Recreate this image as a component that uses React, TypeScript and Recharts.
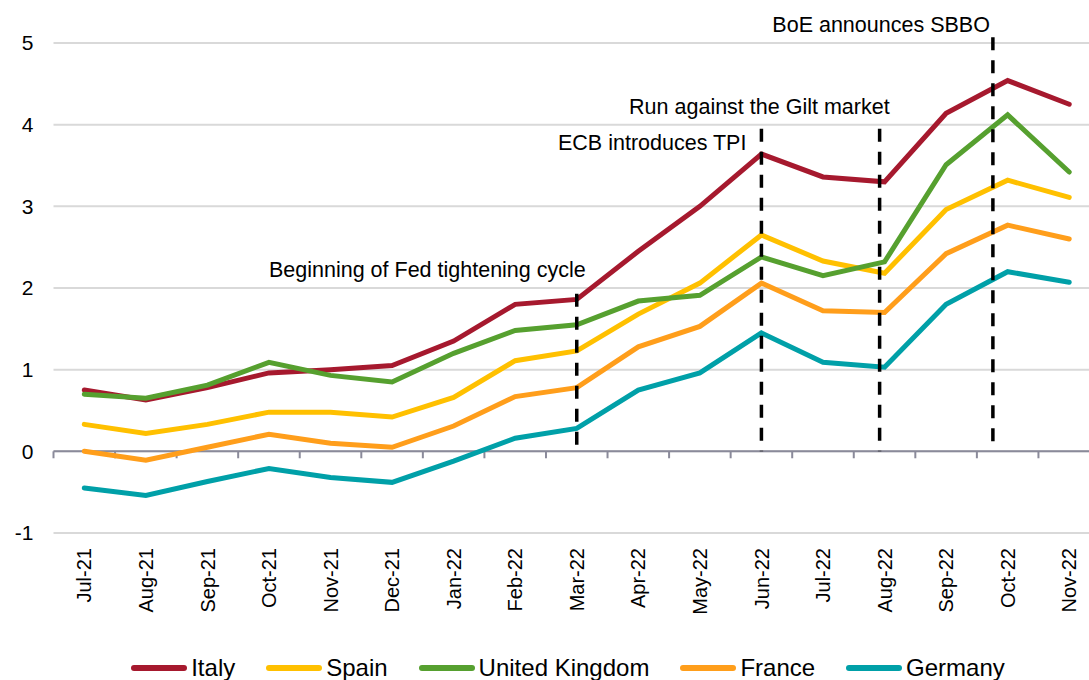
import React from 'react'
import { LineChart, Line, XAxis, YAxis, CartesianGrid, ReferenceLine, ReferenceDot, Legend } from 'recharts'

const MONTHS = [
  'Jul-21', 'Aug-21', 'Sep-21', 'Oct-21', 'Nov-21', 'Dec-21', 'Jan-22', 'Feb-22', 'Mar-22',
  'Apr-22', 'May-22', 'Jun-22', 'Jul-22', 'Aug-22', 'Sep-22', 'Oct-22', 'Nov-22',
]

const ITALY = [0.75, 0.63, 0.78, 0.96, 1.0, 1.05, 1.35, 1.8, 1.86, 2.45, 3.0, 3.64, 3.36, 3.3, 4.14, 4.54, 4.25]
const SPAIN = [0.33, 0.22, 0.33, 0.48, 0.48, 0.42, 0.66, 1.11, 1.23, 1.68, 2.06, 2.65, 2.33, 2.18, 2.96, 3.32, 3.11]
const UK = [0.7, 0.65, 0.81, 1.09, 0.93, 0.85, 1.2, 1.48, 1.55, 1.84, 1.91, 2.38, 2.15, 2.32, 3.51, 4.12, 3.42]
const FRANCE = [0.0, -0.11, 0.05, 0.21, 0.1, 0.05, 0.31, 0.67, 0.78, 1.28, 1.53, 2.06, 1.72, 1.7, 2.42, 2.77, 2.6]
const GERMANY = [-0.45, -0.54, -0.37, -0.21, -0.32, -0.38, -0.12, 0.16, 0.28, 0.75, 0.96, 1.45, 1.09, 1.03, 1.8, 2.2, 2.07]

const Y_TICKS = [-1, 0, 1, 2, 3, 4, 5]

// event markers: position in month units from the start of Jul-21 (dates fall inside months)
const EVENT_POS = [8.5, 11.5, 13.42, 15.26]
const EVENT_TOPS = [1.93, 3.95, 3.95, 5.07]
const EVENT_LABELS = [
  'Beginning of Fed tightening cycle',
  'ECB introduces TPI',
  'Run against the Gilt market',
  'BoE announces SBBO',
]
// text placement relative to the top of each marker
const LABEL_OFFSETS = [
  { dx: 9, dy: -17 },
  { dx: -15, dy: 21 },
  { dx: 10, dy: -15 },
  { dx: -3, dy: -5 },
]

const SERIES = [
  { key: 'italy', name: 'Italy', color: '#A6192E', values: ITALY },
  { key: 'spain', name: 'Spain', color: '#FFC000', values: SPAIN },
  { key: 'uk', name: 'United Kingdom', color: '#56A02F', values: UK },
  { key: 'france', name: 'France', color: '#FF9E1B', values: FRANCE },
  { key: 'germany', name: 'Germany', color: '#00A0A8', values: GERMANY },
]

const FONT = '"Liberation Sans", Arial, Helvetica, sans-serif'
const AXIS_GREY = '#8A8A9A'

// "mid" = centre of each month in month units, feeds the hidden numeric axis
const chartData = MONTHS.map((month, i) => {
  const row: Record<string, any> = { month, mid: i + 0.5 }
  SERIES.forEach(s => {
    row[s.key] = s.values[i]
  })
  return row
})

const edgeTicks = [...MONTHS.map((_, i) => i), MONTHS.length]

const MonthTick = (props: any) => {
  const { x, y, payload } = props
  return (
    <text
      x={x}
      y={y}
      dy="0.36em"
      transform={`rotate(-90 ${x} ${y})`}
      textAnchor="end"
      fontSize={20}
      fontFamily={FONT}
      fill="#000"
    >
      {payload.value}
    </text>
  )
}

const LegendContent = () => (
  <div
    style={{
      height: 57,
      boxSizing: 'border-box',
      paddingTop: 33,
      paddingLeft: 36,
      display: 'flex',
      justifyContent: 'center',
      gap: 31,
      fontFamily: FONT,
      fontSize: 24,
      lineHeight: '24px',
      color: '#000',
    }}
  >
    {SERIES.map(s => (
      <div key={s.key} style={{ display: 'flex', alignItems: 'center' }}>
        <svg width={56} height={8} style={{ marginRight: 4 }}>
          <line x1={3} y1={4} x2={53} y2={4} stroke={s.color} strokeWidth={6} strokeLinecap="round" />
        </svg>
        <span>{s.name}</span>
      </div>
    ))}
  </div>
)

export default function App() {
  return (
    <div style={{ position: 'absolute', left: 0, top: 0, width: 1089, height: 680, overflow: 'hidden', background: '#fff' }}>
      <LineChart
        width={1100}
        height={680}
        data={chartData}
        margin={{ top: 43, right: 0, left: 0, bottom: 0 }}
      >
        <CartesianGrid vertical={false} stroke="#D9D9D9" strokeWidth={2} />
        <XAxis
          dataKey="month"
          scale="band"
          interval={0}
          axisLine={false}
          tickLine={false}
          tickSize={0}
          tickMargin={15}
          height={90}
          tick={<MonthTick />}
        />
        <XAxis
          xAxisId="edge"
          dataKey="mid"
          type="number"
          scale="linear"
          domain={[0, MONTHS.length]}
          ticks={edgeTicks}
          allowDataOverflow
          hide
        />
        <YAxis
          domain={[-1, 5]}
          ticks={Y_TICKS}
          interval={0}
          width={53.5}
          axisLine={false}
          tickLine={false}
          tickSize={0}
          tickMargin={20}
          tick={{ fontSize: 21, fill: '#000', fontFamily: FONT }}
        />
        <Legend verticalAlign="bottom" content={<LegendContent />} wrapperStyle={{ left: 0, bottom: 0, width: 1100 }} />

        <ReferenceLine y={0} stroke={AXIS_GREY} strokeWidth={2} />
        {edgeTicks.map(t => (
          <ReferenceLine
            key={`edge-${t}`}
            xAxisId="edge"
            segment={[{ x: t, y: 0 }, { x: t, y: -0.085 }]}
            stroke={AXIS_GREY}
            strokeWidth={2}
            ifOverflow="visible"
          />
        ))}

        {SERIES.map(s => (
          <Line
            key={s.key}
            type="linear"
            dataKey={s.key}
            name={s.name}
            stroke={s.color}
            strokeWidth={5}
            strokeLinecap="round"
            dot={false}
            activeDot={false}
            isAnimationActive={false}
          />
        ))}

        {/* drawn top-down so the dash pattern starts solid at the top */}
        {EVENT_POS.map((pos, i) => (
          <ReferenceLine
            key={`ev-${i}`}
            xAxisId="edge"
            segment={[{ x: pos, y: EVENT_TOPS[i] }, { x: pos, y: 0 }]}
            stroke="#000"
            strokeWidth={3.5}
            strokeDasharray="13 10"
            ifOverflow="visible"
          />
        ))}
        {EVENT_POS.map((pos, i) => (
          <ReferenceDot
            key={`lbl-${i}`}
            xAxisId="edge"
            x={pos}
            y={EVENT_TOPS[i]}
            r={0}
            ifOverflow="visible"
            shape={(p: any) => (
              <text
                x={p.cx + LABEL_OFFSETS[i].dx}
                y={p.cy + LABEL_OFFSETS[i].dy}
                textAnchor="end"
                fontSize={21.5}
                fontFamily={FONT}
                fill="#000"
              >
                {EVENT_LABELS[i]}
              </text>
            )}
          />
        ))}
      </LineChart>
    </div>
  )
}
